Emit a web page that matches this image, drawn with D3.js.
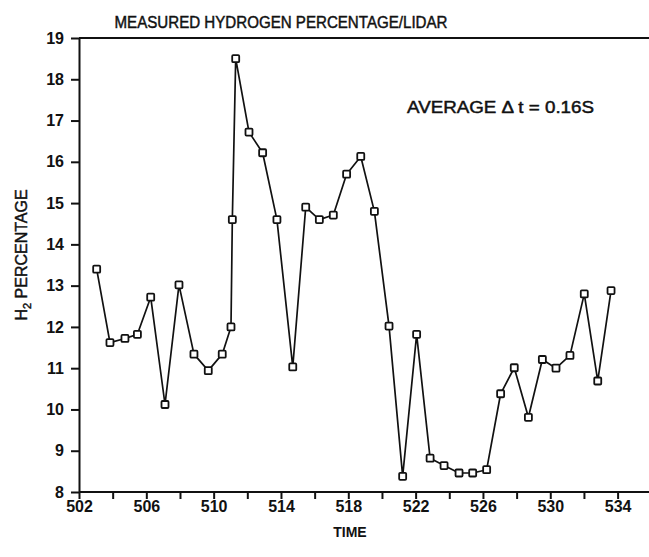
<!DOCTYPE html>
<html>
<head>
<meta charset="utf-8">
<script src="https://cdn.jsdelivr.net/npm/d3@7"></script>
<style>
  html, body { margin: 0; padding: 0; background: #fff; }
  svg { display: block; }
  text { font-family: "Liberation Sans", Arial, Helvetica, sans-serif; fill: #111; }
  .medium { stroke: #111; stroke-width: 0.45px; }
</style>
</head>
<body>
<svg id="chart" width="649" height="557"></svg>
<script>
// Hydrogen percentage measured by lidar, sampled over time
const times = [503.05, 503.84, 504.73, 505.47, 506.26, 507.11, 507.94, 508.83, 509.68, 510.51,
               511.03, 511.11, 511.31, 512.10, 512.91, 513.76, 514.70, 515.47, 516.28, 517.11,
               517.90, 518.74, 519.55, 520.42, 521.23, 522.06, 522.86, 523.69, 524.58, 525.39,
               526.22, 527.05, 527.86, 528.70, 529.53, 530.34, 531.17, 532.02, 532.82, 533.61];
const h2Percent = [13.40, 11.62, 11.72, 11.82, 12.72, 10.12, 13.02, 11.34, 10.94, 11.34,
                   12.00, 14.60, 18.50, 16.72, 16.22, 14.60, 11.03, 14.90, 14.60, 14.71,
                   15.70, 16.13, 14.80, 12.02, 8.38, 11.82, 8.82, 8.64, 8.46, 8.46,
                   8.54, 10.38, 11.01, 9.81, 11.21, 11.00, 11.31, 12.80, 10.69, 12.88];
const xTicks = d3.range(502, 535, 2);
const xTickLabels = [502, 506, 510, 514, 518, 522, 526, 530, 534];
const yTicks = d3.range(8, 20, 1);

const svg = d3.select("#chart");
const plotLeft = 79, plotTop = 38, plotBottom = 492, pageRight = 649;

const x = d3.scaleLinear().domain([502, 534]).range([plotLeft, 617.6]);
const y = d3.scaleLinear().domain([8, 19]).range([plotBottom, plotTop]);

// Frame: top rule and baseline run to the page edge, no right border
svg.append("line").attr("x1", plotLeft).attr("x2", pageRight).attr("y1", plotTop).attr("y2", plotTop)
  .attr("stroke", "#111").attr("stroke-width", 2);

// X axis
const xAxis = d3.axisBottom(x).tickValues(xTicks).tickSize(7).tickSizeOuter(0)
  .tickFormat(d => xTickLabels.includes(d) ? d : "");
const gx = svg.append("g").attr("transform", `translate(0,${plotBottom})`).call(xAxis);
gx.select(".domain").remove();
gx.selectAll(".tick line").attr("stroke", "#111").attr("stroke-width", 2);
gx.selectAll(".tick text").attr("dy", "0").attr("y", 20)
  .style("font-size", "16px").style("font-weight", "bold").attr("fill", "#111");
svg.append("line").attr("x1", plotLeft).attr("x2", pageRight).attr("y1", plotBottom).attr("y2", plotBottom)
  .attr("stroke", "#111").attr("stroke-width", 2);

// Y axis
const yAxis = d3.axisLeft(y).tickValues(yTicks).tickSize(8).tickSizeOuter(0).tickFormat(d3.format("d"));
const gy = svg.append("g").attr("transform", `translate(${plotLeft},0)`).call(yAxis);
gy.select(".domain").attr("stroke", "#111").attr("stroke-width", 2);
gy.selectAll(".tick line").attr("stroke", "#111").attr("stroke-width", 2);
gy.selectAll(".tick text").attr("x", -15)
  .style("font-size", "16px").style("font-weight", "bold").attr("fill", "#111");

// Data line
const line = d3.line().x((d, i) => x(times[i])).y(d => y(d));
svg.append("path").datum(h2Percent).attr("d", line)
  .attr("fill", "none").attr("stroke", "#111").attr("stroke-width", 1.7)
  .attr("stroke-linejoin", "round");

// Open square markers
svg.append("g").selectAll("rect").data(h2Percent).join("rect")
  .attr("x", (d, i) => x(times[i]) - 3.5)
  .attr("y", d => y(d) - 3.5)
  .attr("width", 7).attr("height", 7).attr("rx", 1)
  .attr("fill", "#fff").attr("stroke", "#111").attr("stroke-width", 1.8);

// Title
svg.append("text").attr("class", "medium").attr("x", 281).attr("y", 28).attr("text-anchor", "middle")
  .attr("textLength", 333).attr("lengthAdjust", "spacingAndGlyphs")
  .style("font-size", "16px").text("MEASURED HYDROGEN PERCENTAGE/LIDAR");

// Annotation
svg.append("text").attr("class", "medium").attr("x", 407).attr("y", 113)
  .attr("textLength", 187).attr("lengthAdjust", "spacingAndGlyphs")
  .style("font-size", "16px").text("AVERAGE \u0394 t = 0.16S");

// Axis titles
svg.append("text").attr("x", 350).attr("y", 537).attr("text-anchor", "middle")
  .style("font-size", "14px").style("font-weight", "bold").text("TIME");

const yt = svg.append("text").attr("class", "medium").attr("transform", "translate(27,255) rotate(-90)")
  .attr("text-anchor", "middle").style("font-size", "16px");
yt.append("tspan").text("H");
yt.append("tspan").attr("dy", 4).style("font-size", "11px").text("2");
yt.append("tspan").attr("dy", -4).text(" PERCENTAGE");
</script>
</body>
</html>
